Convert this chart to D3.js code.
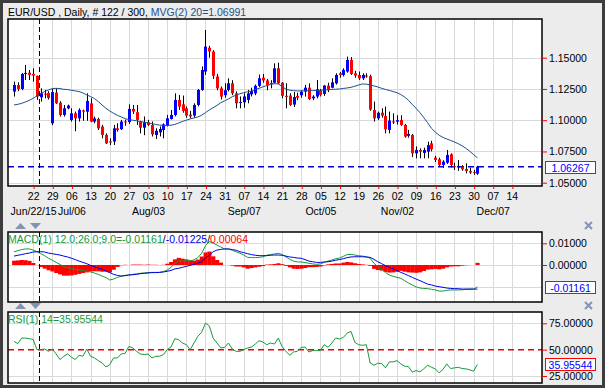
<!DOCTYPE html>
<html>
<head>
<meta charset="utf-8">
<script src="https://cdn.jsdelivr.net/npm/d3@7/dist/d3.min.js"></script>
<style>
body { margin: 0; background: #fff; }
svg text { font-family: "Liberation Sans", Arial, sans-serif; font-size: 10.5px; }
</style>
</head>
<body>
<svg id="mainSvg" width="608" height="390"></svg>
<script>
// EUR/USD daily, Jun 15 - Dec 01 (122 bars)
var opens = [1.1229,1.1282,1.1250,1.1370,1.1380,1.1370,1.1354,1.1183,1.1212,1.1218,
  1.0975,1.1221,1.1140,1.1042,1.1095,1.1002,1.1055,1.1015,1.1078,1.1068,
  1.1135,1.0989,1.1010,1.0949,1.0882,1.0830,1.0829,1.0935,1.0928,1.0990,
  1.0985,1.1090,1.1064,1.0989,1.0940,1.0983,1.0962,1.0882,1.0903,1.0922,
  1.0962,1.1010,1.1042,1.1162,1.1127,1.1095,1.1045,1.1037,1.1122,1.1242,
  1.1389,1.1580,1.1549,1.1349,1.1255,1.1200,1.1242,1.1295,1.1215,1.1140,
  1.1143,1.1162,1.1207,1.1215,1.1275,1.1340,1.1318,1.1298,1.1300,1.1415,
  1.1300,1.1195,1.1197,1.1125,1.1195,1.1200,1.1229,1.1260,1.1175,1.1189,
  1.1237,1.1210,1.1277,1.1260,1.1295,1.1375,1.1362,1.1389,1.1482,1.1375,
  1.1362,1.1335,1.1357,1.1352,1.1082,1.1015,1.1060,1.1034,1.0922,1.0990,
  1.0988,1.1002,1.0962,1.0875,1.0882,1.0735,1.0762,1.0738,1.0748,1.0815,
  1.0700,1.0687,1.0642,1.0660,1.0727,1.0632,1.0621,1.0629,1.0610,1.0594,
  1.0585,1.0572];
var highs = [1.1309,1.1303,1.1378,1.1442,1.1402,1.1415,1.1357,1.1255,1.1242,1.1232,
  1.1250,1.1255,1.1152,1.1122,1.1125,1.1095,1.1069,1.1095,1.1085,1.1215,
  1.1175,1.1029,1.1020,1.0962,1.0895,1.0855,1.0962,1.0975,1.1002,1.1005,
  1.1127,1.1122,1.1122,1.0995,1.1030,1.1002,1.0990,1.0935,1.0950,1.0975,
  1.1042,1.1082,1.1215,1.1202,1.1197,1.1110,1.1075,1.1135,1.1250,1.1430,
  1.1722,1.1595,1.1560,1.1370,1.1270,1.1295,1.1335,1.1320,1.1230,1.1190,
  1.1215,1.1242,1.1260,1.1285,1.1365,1.1370,1.1330,1.1320,1.1455,1.1460,
  1.1305,1.1295,1.1215,1.1225,1.1220,1.1240,1.1282,1.1295,1.1200,1.1322,
  1.1250,1.1282,1.1300,1.1335,1.1375,1.1385,1.1415,1.1509,1.1505,1.1395,
  1.1389,1.1375,1.1375,1.1365,1.1149,1.1069,1.1095,1.1109,1.1069,1.1055,
  1.1040,1.1040,1.0970,1.0922,1.0890,1.0790,1.0775,1.0780,1.0828,1.0835,
  1.0715,1.0700,1.0680,1.0762,1.0735,1.0660,1.0682,1.0640,1.0655,1.0620,
  1.0602,1.0635];
var lows = [1.1189,1.1232,1.1240,1.1322,1.1322,1.1309,1.1162,1.1149,1.1175,1.1165,
  1.0960,1.1130,1.1029,1.1029,1.1087,1.0989,1.0912,1.0989,1.0995,1.0995,
  1.0985,1.0975,1.0922,1.0855,1.0810,1.0802,1.0802,1.0909,1.0922,1.0955,
  1.0970,1.1050,1.0962,1.0895,1.0880,1.0955,1.0870,1.0850,1.0870,1.0855,
  1.0950,1.1005,1.1030,1.1082,1.1060,1.1020,1.1015,1.1020,1.1110,1.1235,
  1.1362,1.1500,1.1330,1.1240,1.1165,1.1180,1.1230,1.1200,1.1095,1.1095,
  1.1100,1.1135,1.1190,1.1200,1.1265,1.1300,1.1240,1.1255,1.1295,1.1290,
  1.1175,1.1095,1.1115,1.1105,1.1160,1.1180,1.1189,1.1162,1.1160,1.1175,
  1.1190,1.1195,1.1225,1.1255,1.1285,1.1340,1.1350,1.1380,1.1362,1.1340,
  1.1322,1.1322,1.1340,1.1075,1.0989,1.1002,1.1020,1.0895,1.0895,1.0970,
  1.0965,1.0955,1.0860,1.0860,1.0705,1.0695,1.0695,1.0695,1.0695,1.0750,
  1.0665,1.0630,1.0620,1.0650,1.0622,1.0602,1.0595,1.0595,1.0575,1.0570,
  1.0562,1.0562];
var closes = [1.1282,1.1250,1.1370,1.1378,1.1362,1.1357,1.1189,1.1215,1.1204,1.1178,
  1.1225,1.1135,1.1042,1.1095,1.1117,1.1055,1.1015,1.1082,1.1068,1.1154,
  1.0989,1.1015,1.0935,1.0882,1.0815,1.0825,1.0935,1.0922,1.0989,1.0982,
  1.1090,1.1069,1.1002,1.0940,1.0983,1.0962,1.0887,1.0915,1.0930,1.0967,
  1.1015,1.1042,1.1162,1.1109,1.1074,1.1037,1.1030,1.1122,1.1242,1.1402,
  1.1589,1.1549,1.1355,1.1255,1.1189,1.1240,1.1295,1.1215,1.1135,1.1145,
  1.1190,1.1215,1.1234,1.1275,1.1335,1.1318,1.1280,1.1290,1.1415,1.1295,
  1.1195,1.1192,1.1122,1.1185,1.1180,1.1228,1.1260,1.1170,1.1189,1.1247,
  1.1202,1.1277,1.1242,1.1303,1.1362,1.1362,1.1402,1.1482,1.1370,1.1357,
  1.1335,1.1362,1.1352,1.1085,1.1015,1.1060,1.1037,1.0927,1.0997,1.0988,
  1.1000,1.0962,1.0869,1.0890,1.0735,1.0762,1.0748,1.0762,1.0800,1.0767,
  1.0682,1.0642,1.0669,1.0722,1.0642,1.0629,1.0634,1.0607,1.0594,1.0581,
  1.0580,1.0627];
var mvg20 = [1.1122,1.1127,1.1135,1.1146,1.1159,1.1175,1.1194,1.1213,1.1229,1.1242,
  1.1253,1.1255,1.1253,1.1247,1.1245,1.1239,1.1234,1.1229,1.1218,1.1202,
  1.1189,1.1173,1.1149,1.1122,1.1095,1.1074,1.1055,1.1039,1.1026,1.1012,
  1.1005,1.1000,1.0995,1.0989,1.0984,1.0978,1.0972,1.0966,1.0961,1.0958,
  1.0957,1.0960,1.0966,1.0978,1.0990,1.1000,1.1010,1.1018,1.1026,1.1040,
  1.1060,1.1082,1.1100,1.1118,1.1140,1.1155,1.1170,1.1188,1.1200,1.1212,
  1.1220,1.1228,1.1232,1.1245,1.1255,1.1267,1.1276,1.1286,1.1292,1.1290,
  1.1270,1.1248,1.1240,1.1236,1.1234,1.1234,1.1235,1.1236,1.1237,1.1238,
  1.1240,1.1241,1.1243,1.1246,1.1248,1.1250,1.1254,1.1258,1.1263,1.1272,
  1.1282,1.1290,1.1288,1.1282,1.1274,1.1266,1.1255,1.1246,1.1238,1.1229,
  1.1220,1.1205,1.1185,1.1160,1.1125,1.1095,1.1060,1.1020,1.0980,1.0935,
  1.0905,1.0880,1.0862,1.0850,1.0838,1.0826,1.0812,1.0795,1.0775,1.0752,
  1.0725,1.0699];
var macdLine = [0.0061,0.0066,0.0071,0.0074,0.0074,0.0069,0.0061,0.0052,0.0043,0.0031,
  0.0022,0.0012,0.0003,-0.0008,-0.0012,-0.0017,-0.0020,-0.0023,-0.0025,-0.0028,
  -0.0032,-0.0037,-0.0043,-0.0051,-0.0058,-0.0069,-0.0065,-0.0057,-0.0052,-0.0048,
  -0.0046,-0.0043,-0.0041,-0.0038,-0.0037,-0.0035,-0.0034,-0.0034,-0.0034,-0.0031,
  -0.0023,-0.0011,0.0008,0.0018,0.0018,0.0020,0.0020,0.0023,0.0034,0.0054,
  0.0089,0.0108,0.0101,0.0092,0.0083,0.0074,0.0074,0.0068,0.0061,0.0054,
  0.0046,0.0035,0.0034,0.0034,0.0035,0.0038,0.0045,0.0048,0.0051,0.0054,
  0.0049,0.0037,0.0026,0.0018,0.0014,0.0014,0.0011,0.0008,0.0005,0.0003,
  0.0005,0.0012,0.0018,0.0023,0.0029,0.0032,0.0040,0.0048,0.0049,0.0046,
  0.0043,0.0041,0.0038,0.0031,0.0008,-0.0008,-0.0020,-0.0035,-0.0046,-0.0052,
  -0.0057,-0.0061,-0.0072,-0.0083,-0.0092,-0.0101,-0.0106,-0.0108,-0.0109,-0.0112,
  -0.0115,-0.0120,-0.0120,-0.0117,-0.0115,-0.0115,-0.0115,-0.0114,-0.0112,-0.0111,
  -0.0111,-0.0101];
var signalLine = [0.0041,0.0045,0.0048,0.0052,0.0055,0.0060,0.0061,0.0061,0.0060,0.0055,
  0.0052,0.0049,0.0046,0.0041,0.0037,0.0031,0.0025,0.0018,0.0012,0.0006,
  -0.0002,-0.0008,-0.0014,-0.0020,-0.0028,-0.0035,-0.0043,-0.0048,-0.0051,-0.0049,
  -0.0046,-0.0045,-0.0043,-0.0040,-0.0038,-0.0037,-0.0035,-0.0035,-0.0034,-0.0032,
  -0.0029,-0.0025,-0.0018,-0.0015,-0.0011,-0.0006,-0.0002,0.0003,0.0009,0.0015,
  0.0031,0.0046,0.0061,0.0069,0.0072,0.0074,0.0074,0.0071,0.0068,0.0061,
  0.0057,0.0052,0.0048,0.0045,0.0043,0.0043,0.0043,0.0045,0.0046,0.0046,
  0.0045,0.0041,0.0037,0.0035,0.0032,0.0031,0.0025,0.0018,0.0015,0.0012,
  0.0012,0.0014,0.0015,0.0018,0.0022,0.0025,0.0029,0.0034,0.0037,0.0038,
  0.0038,0.0038,0.0037,0.0035,0.0026,0.0015,0.0006,-0.0003,-0.0011,-0.0018,
  -0.0026,-0.0034,-0.0041,-0.0049,-0.0057,-0.0065,-0.0072,-0.0080,-0.0088,-0.0092,
  -0.0097,-0.0100,-0.0103,-0.0106,-0.0108,-0.0109,-0.0109,-0.0111,-0.0111,-0.0111,
  -0.0111,-0.0111];
var rsiLine = [57.9,55.7,61.0,61.0,60.4,59.7,50.0,50.0,50.6,48.4,
  50.6,45.9,40.6,43.7,45.9,42.8,40.6,44.7,43.7,50.6,
  43.7,42.1,39.6,37.4,33.6,35.8,42.1,42.1,45.9,46.5,
  53.1,51.6,48.4,45.9,45.3,45.9,42.1,43.7,43.7,45.3,
  50.0,52.5,60.4,59.4,56.3,54.7,50.0,56.3,62.6,66.5,
  75.2,72.5,61.0,56.3,51.6,52.2,56.3,50.6,48.4,48.4,
  50.0,51.6,52.5,55.3,58.5,57.2,54.7,56.3,55.3,61.0,
  53.1,48.4,44.7,47.8,48.4,52.2,52.5,47.8,49.1,49.1,
  49.1,54.7,52.2,56.3,61.0,60.1,61.6,65.7,67.3,56.9,
  54.7,54.1,54.7,37.4,35.2,37.1,36.8,32.7,38.4,38.4,
  39.6,36.5,34.3,34.0,28.6,30.2,28.9,31.8,35.2,33.3,
  31.8,28.0,31.1,36.5,32.1,32.7,33.3,32.1,31.8,30.8,
  29.6,35.96];

var weekTicks = [5,10,15,20,25,30,35,40,45,50,55,60,65,70,75,80,85,90,95,100,105,110,115,120,125,130];
var weekLabels = ["22","29","06","13","20","27","03","10","17","24","31","07","14","21","28","05","12","19","26","02","09","16","23","30","07","14"];
var monthTicks = [5,15,35,60,80,100,125];
var monthLabels = ["Jun/22/15","Jul/06","Aug/03","Sep/07","Oct/05","Nov/02","Dec/07"];
var priceTicks = [1.05,1.075,1.10,1.125,1.15];
var macdGrid = [-0.01,0,0.01];
var macdTicks = [0,0.01];
var rsiGrid = [25,75];
var rsiTicks = [25,50,75];
var lastPrice = 1.06267;
var lastMacdText = "-0.01161";
var lastRsiText = "35.95544";
var cursorBar = 6.6;

var plotLeft = 8, plotRight = 542;
var panels = {
  price: {top: 19, bottom: 186},
  macd: {top: 232, bottom: 302},
  rsi: {top: 312, bottom: 383}
};

var svg = d3.select("#mainSvg");
var x = d3.scaleLinear().domain([0, 121]).range([14, 477.4]);
var yPrice = d3.scaleLinear().domain([1.05, 1.15]).range([182.7, 57.7]);
var yMacd = d3.scaleLinear().domain([0, 0.01]).range([265, 243.3]);
var yRsi = d3.scaleLinear().domain([25, 75]).range([376, 323.3]);
var bars = d3.range(closes.length);
var step = x(1) - x(0);

var gridColor = "#d9d9d9";
var greenColor = "#16993a";

// frame and background
svg.append("rect").attr("x", 1.5).attr("y", 1.5).attr("width", 602).attr("height", 385)
  .attr("fill", "#ececec").attr("stroke", "#3d3d3d").attr("stroke-width", 3);

function panelBase(name, p, yScale, yGrid) {
  var g = svg.append("g").attr("class", name);
  svg.append("clipPath").attr("id", "clip-" + name).append("rect")
    .attr("x", plotLeft).attr("y", p.top).attr("width", plotRight - plotLeft).attr("height", p.bottom - p.top);
  g.append("rect").attr("x", plotLeft).attr("y", p.top).attr("width", plotRight - plotLeft)
    .attr("height", p.bottom - p.top).attr("fill", "#fff");
  g.selectAll("line.vgrid").data(weekTicks).enter().append("line")
    .attr("x1", d => Math.round(x(d)) + 0.5).attr("x2", d => Math.round(x(d)) + 0.5)
    .attr("y1", p.top).attr("y2", p.bottom)
    .attr("stroke", gridColor).attr("stroke-width", 1);
  g.selectAll("line.hgrid").data(yGrid).enter().append("line")
    .attr("x1", plotLeft).attr("x2", plotRight)
    .attr("y1", d => Math.round(yScale(d)) + 0.5).attr("y2", d => Math.round(yScale(d)) + 0.5)
    .attr("stroke", gridColor).attr("stroke-width", 1);
  var inner = g.append("g").attr("clip-path", "url(#clip-" + name + ")");
  return {g: g, inner: inner};
}

function panelFrame(g, p, yScale, yTicks, fmt) {
  g.append("rect").attr("x", plotLeft).attr("y", p.top).attr("width", plotRight - plotLeft)
    .attr("height", p.bottom - p.top).attr("fill", "none").attr("stroke", "#000").attr("stroke-width", 1.5);
  var ax = g.append("g").attr("transform", "translate(" + plotRight + ",0)")
    .call(d3.axisRight(yScale).tickValues(yTicks).tickFormat(fmt).tickSize(5).tickPadding(2));
  ax.select(".domain").remove();
  ax.selectAll(".tick line").attr("stroke", "#ff0000");
  ax.selectAll(".tick text").attr("fill", "#000").style("font-size", "10.5px")
    .style("font-family", "'Liberation Sans', Arial, sans-serif");
}

function valueBox(g, yPos, label) {
  g.append("rect").attr("x", 545.5).attr("y", Math.round(yPos - 6) + 0.5).attr("width", 50).attr("height", 12)
    .attr("fill", "#fff").attr("stroke", "#ff0000").attr("stroke-width", 1);
  g.append("text").attr("x", 570.5).attr("y", Math.round(yPos - 6) + 10.5).attr("text-anchor", "middle")
    .attr("fill", "#0000ff").text(label);
}

function cursor(inner, p) {
  inner.append("line").attr("x1", Math.round(x(cursorBar)) + 0.5).attr("x2", Math.round(x(cursorBar)) + 0.5)
    .attr("y1", p.top).attr("y2", p.bottom)
    .attr("stroke", "#000").attr("stroke-width", 1).attr("stroke-dasharray", "5,3");
}

function arrows(yTop) {
  svg.append("path").attr("d", "M15," + (yTop + 6) + "L20.5," + yTop + "L26," + (yTop + 6) + "Z").attr("fill", "#8393b5");
  svg.append("path").attr("d", "M30," + yTop + "L41," + yTop + "L35.5," + (yTop + 6) + "Z").attr("fill", "#8393b5");
  svg.append("path").attr("d", "M585," + (yTop - 1) + "L592," + (yTop + 6) + "M592," + (yTop - 1) + "L585," + (yTop + 6))
    .attr("stroke", "#8393b5").attr("stroke-width", 2);
}

// price panel
var pp = panels.price;
var price = panelBase("price", pp, yPrice, priceTicks);
price.inner.append("line").attr("x1", plotLeft).attr("x2", plotRight)
  .attr("y1", yPrice(lastPrice)).attr("y2", yPrice(lastPrice))
  .attr("stroke", "#0000cc").attr("stroke-width", 1.5).attr("stroke-dasharray", "6,4");
price.inner.selectAll("line.wick").data(bars).enter().append("line")
  .attr("x1", i => Math.round(x(i)) + 0.5).attr("x2", i => Math.round(x(i)) + 0.5)
  .attr("y1", i => yPrice(highs[i])).attr("y2", i => yPrice(lows[i]))
  .attr("stroke", "#000").attr("stroke-width", 1);
price.inner.selectAll("rect.body").data(bars).enter().append("rect")
  .attr("x", i => Math.round(x(i)) - 1).attr("width", 3)
  .attr("y", i => yPrice(Math.max(opens[i], closes[i])))
  .attr("height", i => Math.max(1, Math.abs(yPrice(opens[i]) - yPrice(closes[i]))))
  .attr("fill", i => closes[i] >= opens[i] ? "#0000ff" : "#ff0000");
price.inner.append("path").datum(bars)
  .attr("d", d3.line().x(i => x(i)).y(i => yPrice(mvg20[i])))
  .attr("fill", "none").attr("stroke", "#1f4f8a").attr("stroke-width", 1);
cursor(price.inner, pp);
panelFrame(price.g, pp, yPrice, priceTicks, d3.format(".5f"));
valueBox(price.g, yPrice(lastPrice), lastPrice.toFixed(5));

var hdr = svg.append("text").attr("x", 8).attr("y", 16);
hdr.append("tspan").attr("fill", "#000").text("EUR/USD , Daily, # 122 / 300, ");
hdr.append("tspan").attr("fill", "#1f4f8a").text("MVG(2) 20=1.06991");

// time axis
var xa = svg.append("g").attr("transform", "translate(0," + pp.bottom + ")")
  .call(d3.axisBottom(x).tickValues(weekTicks).tickFormat((d, k) => weekLabels[k]).tickSize(3).tickPadding(4));
xa.select(".domain").remove();
xa.selectAll(".tick line").attr("stroke", "#ff0000").attr("transform", "translate(0.5,0)");
xa.selectAll(".tick text").attr("fill", "#000").style("font-size", "10.5px")
  .style("font-family", "'Liberation Sans', Arial, sans-serif");
var ma = svg.append("g").attr("transform", "translate(0," + pp.bottom + ")")
  .call(d3.axisBottom(x).tickValues(monthTicks).tickFormat((d, k) => monthLabels[k]).tickSize(0).tickPadding(21.5));
ma.select(".domain").remove();
ma.selectAll(".tick text").attr("fill", "#000").style("font-size", "10.5px")
  .style("font-family", "'Liberation Sans', Arial, sans-serif");

arrows(223);
arrows(303);

// MACD panel
var mp = panels.macd;
var macd = panelBase("macd", mp, yMacd, macdGrid);
macd.inner.selectAll("rect.hist").data(bars).enter().append("rect")
  .attr("x", i => x(i) - step / 2).attr("width", step + 0.3)
  .attr("y", i => Math.min(yMacd(macdLine[i] - signalLine[i]), yMacd(0)))
  .attr("height", i => Math.abs(yMacd(macdLine[i] - signalLine[i]) - yMacd(0)))
  .attr("fill", "#ff0000");
macd.inner.append("path").datum(bars)
  .attr("d", d3.line().x(i => x(i)).y(i => yMacd(macdLine[i])))
  .attr("fill", "none").attr("stroke", greenColor).attr("stroke-width", 1);
macd.inner.append("path").datum(bars)
  .attr("d", d3.line().x(i => x(i)).y(i => yMacd(signalLine[i])))
  .attr("fill", "none").attr("stroke", "#0000dd").attr("stroke-width", 1);
cursor(macd.inner, mp);
panelFrame(macd.g, mp, yMacd, macdTicks, d3.format(".5f"));
valueBox(macd.g, yMacd(macdLine[macdLine.length - 1]), lastMacdText);
var mh = svg.append("text").attr("x", 8).attr("y", 243);
mh.append("tspan").attr("fill", greenColor).text("MACD(1) 12.0;26.0;9.0=-0.01161");
mh.append("tspan").attr("fill", "#000").text("/");
mh.append("tspan").attr("fill", "#0000dd").text("-0.01225");
mh.append("tspan").attr("fill", "#000").text("/");
mh.append("tspan").attr("fill", "#ff0000").text("0.00064");

// RSI panel
var rp = panels.rsi;
var rsi = panelBase("rsi", rp, yRsi, rsiGrid);
rsi.inner.append("line").attr("x1", plotLeft).attr("x2", plotRight)
  .attr("y1", yRsi(50)).attr("y2", yRsi(50))
  .attr("stroke", "#ee0000").attr("stroke-width", 1.5).attr("stroke-dasharray", "6,4");
rsi.inner.append("path").datum(bars)
  .attr("d", d3.line().x(i => x(i)).y(i => yRsi(rsiLine[i])))
  .attr("fill", "none").attr("stroke", greenColor).attr("stroke-width", 1);
cursor(rsi.inner, rp);
panelFrame(rsi.g, rp, yRsi, rsiTicks, d3.format(".5f"));
valueBox(rsi.g, yRsi(rsiLine[rsiLine.length - 1]), lastRsiText);
svg.append("text").attr("x", 8).attr("y", 323).attr("fill", greenColor).text("RSI(1) 14=35.95544");
</script>
</body>
</html>
